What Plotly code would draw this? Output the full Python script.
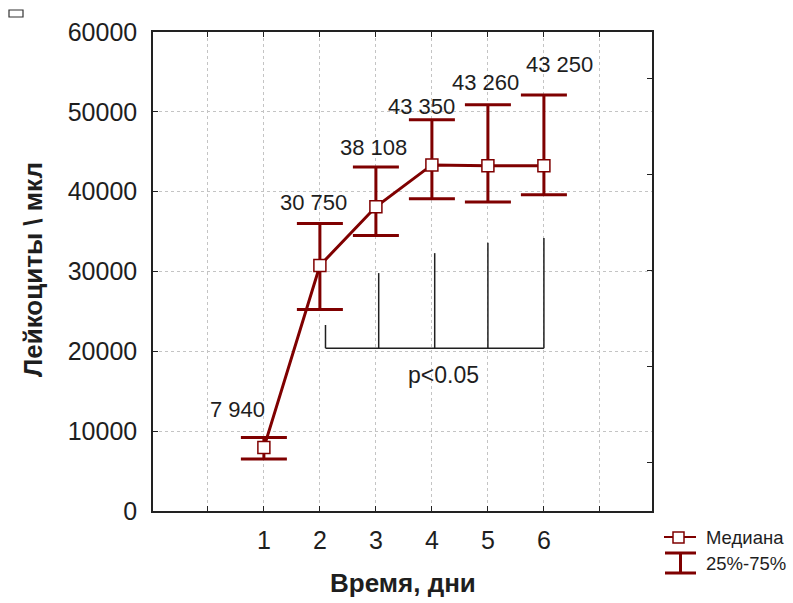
import plotly.graph_objects as go

# Leukocyte counts by day: median and interquartile range
days = [1, 2, 3, 4, 5, 6]
median = [7940, 30750, 38108, 43350, 43260, 43250]
q25 = [6500, 25250, 34500, 39100, 38700, 39600]
q75 = [9200, 36000, 43100, 49000, 50900, 52100]

# Significance bracket (days 2..6 vs day 1)
bracket_x = [2.1, 3.05, 4.05, 5.0, 6.0]
bracket_top = [23300, 29800, 32300, 33600, 34200]
bracket_base = 20400
p_label = "p<0.05"

x_ticks = [0, 1, 2, 3, 4, 5, 6, 7]
x_ticktext = ["", "1", "2", "3", "4", "5", "6", ""]
y_ticks = [0, 10000, 20000, 30000, 40000, 50000, 60000]

# pixel offsets of value labels relative to their points
label_dx = [-26, -6, -2, -10, -2, 16]
label_dy = [38, 63, 59, 58, 83, 101]

RED = "#7f0000"
FONT = "Liberation Sans, Arial, sans-serif"
TXT = "#1e1e1e"

fig = go.Figure()

# bracket: base line + vertical legs
bx, by = [], []
bx += [bracket_x[0], bracket_x[-1], None]
by += [bracket_base, bracket_base, None]
for xv, top in zip(bracket_x, bracket_top):
    bx += [xv, xv, None]
    by += [bracket_base, top, None]
fig.add_trace(go.Scatter(x=bx, y=by, mode="lines",
                         line=dict(color="#202020", width=1.5),
                         showlegend=False, hoverinfo="skip"))

fig.add_trace(go.Scatter(
    x=days, y=median, mode="lines+markers", name="Медиана",
    line=dict(color=RED, width=3),
    marker=dict(symbol="square", size=12, color="white",
                line=dict(color=RED, width=1.5)),
    error_y=dict(type="data", symmetric=False,
                 array=[h - m for h, m in zip(q75, median)],
                 arrayminus=[m - l for m, l in zip(median, q25)],
                 color=RED, thickness=3, width=23),
    showlegend=False,
))

# dummy trace so the right-hand axis is drawn
fig.add_trace(go.Scatter(x=[None], y=[None], yaxis="y2",
                         showlegend=False, hoverinfo="skip"))

ann = []
for d, m, dx, dy in zip(days, median, label_dx, label_dy):
    ann.append(dict(x=d, y=m, xref="x", yref="y", xshift=dx, yshift=dy,
                    text=f"{m:,}".replace(",", " "), showarrow=False,
                    font=dict(family=FONT, size=22, color=TXT)))
ann.append(dict(x=4.2, y=17000, xref="x", yref="y", text=p_label,
                showarrow=False, font=dict(family=FONT, size=23, color=TXT)))

PW, PH, L0, B0 = 499, 479, 153, 511


def px(xp):
    return (xp - L0) / PW


def py(yp):
    return (B0 - yp) / PH


ann.append(dict(x=px(33), y=py(270), xref="paper", yref="paper",
                xanchor="center", yanchor="middle",
                text="<b>Лейкоциты \\ мкл</b>", textangle=-90, showarrow=False,
                font=dict(family=FONT, size=26, color=TXT)))
ann.append(dict(x=px(403), y=py(583), xref="paper", yref="paper",
                xanchor="center", yanchor="middle",
                text="<b>Время, дни</b>", showarrow=False,
                font=dict(family=FONT, size=26, color=TXT)))

# legend text
ann.append(dict(x=px(704), y=py(537), xref="paper", yref="paper",
                xanchor="left", yanchor="middle", text="Медиана",
                showarrow=False, font=dict(family=FONT, size=18.5, color=TXT)))
ann.append(dict(x=px(704), y=py(563), xref="paper", yref="paper",
                xanchor="left", yanchor="middle", text="25%-75%",
                showarrow=False, font=dict(family=FONT, size=18.5, color=TXT)))

shapes = [
    # legend: median glyph
    dict(type="line", xref="paper", yref="paper",
         x0=px(664), x1=px(696), y0=py(537), y1=py(537),
         line=dict(color=RED, width=2)),
    dict(type="rect", xref="paper", yref="paper",
         x0=px(673), x1=px(684), y0=py(543), y1=py(532),
         line=dict(color=RED, width=1.5), fillcolor="white"),
    # legend: IQR glyph
    dict(type="line", xref="paper", yref="paper",
         x0=px(680.5), x1=px(680.5), y0=py(553), y1=py(573),
         line=dict(color=RED, width=3)),
    dict(type="line", xref="paper", yref="paper",
         x0=px(665), x1=px(696), y0=py(553), y1=py(553),
         line=dict(color=RED, width=3)),
    dict(type="line", xref="paper", yref="paper",
         x0=px(665), x1=px(696), y0=py(573), y1=py(573),
         line=dict(color=RED, width=3)),
    # small box glyph in the corner
    dict(type="rect", xref="paper", yref="paper",
         x0=px(9), x1=px(23), y0=py(17), y1=py(10),
         line=dict(color="#333", width=1.2), fillcolor="white"),
]

axis_common = dict(
    showline=True, linecolor="#222", linewidth=1.5,
    ticks="inside", ticklen=5, tickcolor="#222", tickwidth=1.2,
    showgrid=True, gridcolor="#c4c4c4", griddash="dot", gridwidth=1,
    zeroline=False,
    tickfont=dict(family=FONT, size=25, color=TXT),
)

fig.update_layout(
    width=793, height=603,
    margin=dict(l=153, r=141, t=32, b=92),
    paper_bgcolor="white", plot_bgcolor="white",
    xaxis=dict(range=[-0.98, 7.93], tickmode="array", tickvals=x_ticks,
               ticktext=x_ticktext, mirror="ticks", ticklabelstandoff=6,
               **axis_common),
    yaxis=dict(range=[0, 60000], tickmode="array", tickvals=y_ticks,
               tickformat="d", mirror=True, ticklabelstandoff=9,
               **axis_common),
    yaxis2=dict(overlaying="y", side="right", range=[-0.51, 4.48],
                tickmode="array", tickvals=[0, 1, 2, 3, 4],
                showticklabels=False, ticks="inside", ticklen=5,
                tickcolor="#222", tickwidth=1.2, showgrid=False,
                zeroline=False, showline=False),
    annotations=ann, shapes=shapes, showlegend=False,
)

fig.write_html("out.html")
